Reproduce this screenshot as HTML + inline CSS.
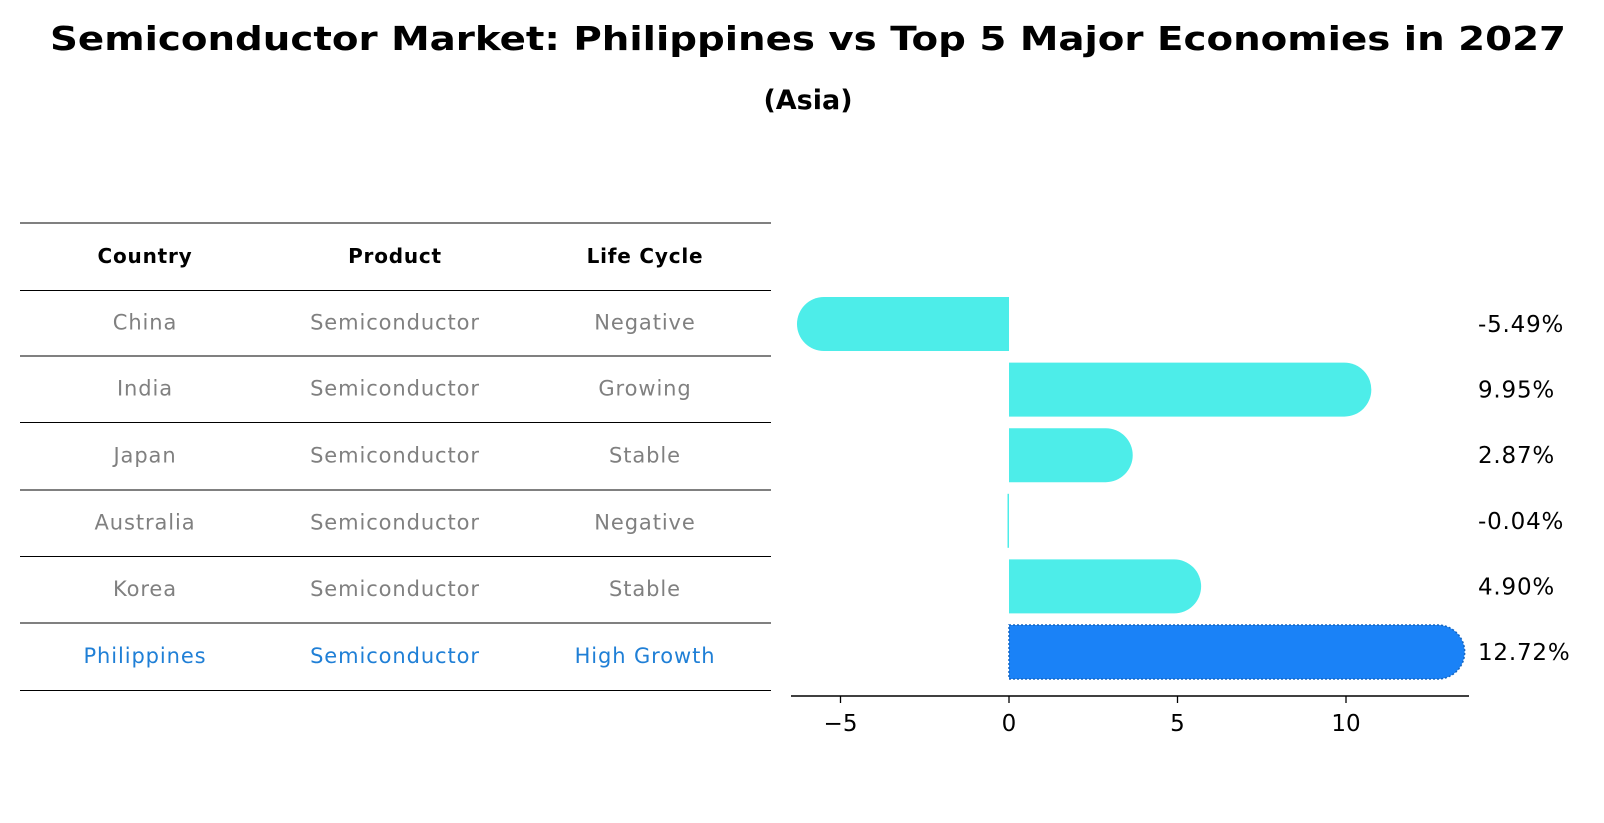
<!DOCTYPE html>
<html><head><meta charset="utf-8">
<style>
html,body{margin:0;padding:0;background:#fff;}
svg{display:block;font-family:"DejaVu Sans","Liberation Sans",sans-serif;}
</style></head>
<body>
<svg id="chart" width="1604" height="823" viewBox="0 0 1604 823">
  <text x="808" y="50" text-anchor="middle" font-size="33" font-weight="bold" fill="#000" textLength="1516" lengthAdjust="spacingAndGlyphs">Semiconductor Market: Philippines vs Top 5 Major Economies in 2027</text>
  <text x="808" y="109" text-anchor="middle" font-size="27" font-weight="bold" fill="#000">(Asia)</text>
  <g id="table"></g>
  <g id="bars"></g>
</svg>
<script>
const countries = ["China","India","Japan","Australia","Korea","Philippines"];
const products = ["Semiconductor","Semiconductor","Semiconductor","Semiconductor","Semiconductor","Semiconductor"];
const lifeCycles = ["Negative","Growing","Stable","Negative","Stable","High Growth"];
const growthValues = [-5.49, 9.95, 2.87, -0.04, 4.90, 12.72];
const valueLabels = ["-5.49%","9.95%","2.87%","-0.04%","4.90%","12.72%"];
const xTicks = [-5, 0, 5, 10];
const xTickLabels = ["\u22125","0","5","10"];

const NS = "http://www.w3.org/2000/svg";
function mk(tag, attrs, parent){
  const e = document.createElementNS(NS, tag);
  for (const k in attrs) e.setAttribute(k, attrs[k]);
  parent.appendChild(e);
  return e;
}
const table = document.getElementById('table');
const lineYs = [223, 290.5, 356, 422.5, 490, 556.5, 623, 690.5];
lineYs.forEach((y,i)=>{
  const l = mk('line',{x1:20,x2:771,y1:y,y2:y,stroke:'#000','stroke-width':1},table);
  
  
});
const colX = [145, 395, 645];
["Country","Product","Life Cycle"].forEach((h,i)=>{
  const t = mk('text',{x:colX[i],y:263,'text-anchor':'middle','font-size':20,'font-weight':'bold','letter-spacing':'0.8',fill:'#000'},table);
  t.textContent = h;
  
  
});
countries.forEach((c,r)=>{
  const yc = (lineYs[r+1]+lineYs[r+2])/2 + 6;
  const last = r === countries.length-1;
  const col = last ? '#1f7fd6' : '#808080';
  [c, products[r], lifeCycles[r]].forEach((v,i)=>{
    const t = mk('text',{x:colX[i],y:yc,'text-anchor':'middle','font-size':21,'letter-spacing':'0.9',fill:col},table);
    t.textContent = v;
    
    
  });
});
const g = document.getElementById('bars');
const x0 = 1009, pxPerUnit = 33.7;
const xs = v => x0 + v*pxPerUnit;
const rowY = i => 324 + i*65.6;
const barH = 54, r = 27;
growthValues.forEach((v,i)=>{
  const last = i === growthValues.length-1;
  const col = last ? '#1A82F7' : '#4DEDE9';
  const xa = xs(0), xb = xs(v), yc = rowY(i);
  let d;
  if (Math.abs(xb-xa) < 5) {
    const w = Math.max(Math.abs(xb-xa), 1.5);
    const left = v >= 0 ? xa : xa - w;
    d = `M${left},${yc-barH/2}h${w}v${barH}h${-w}z`;
  } else if (v >= 0) {
    d = `M${xa},${yc-barH/2}H${xb}A${r},${r} 0 0 1 ${xb},${yc+barH/2}H${xa}Z`;
  } else {
    d = `M${xa},${yc-barH/2}H${xb}A${r},${r} 0 0 0 ${xb},${yc+barH/2}H${xa}Z`;
  }
  const p = mk('path',{d:d,fill:col},g);
  if (last){ p.setAttribute('stroke','#1565c0'); p.setAttribute('stroke-width','1.5'); p.setAttribute('stroke-dasharray','2,2'); }
  
  
  const t = mk('text',{x:1478,y:yc+8,'font-size':23,'letter-spacing':'0.8',fill:'#000'},g);
  t.textContent = valueLabels[i];
  
  
});
const ax = mk('line',{x1:791,x2:1469,y1:696,y2:696,stroke:'#000','stroke-width':1.5},g);


xTicks.forEach((v,i)=>{
  const tk = mk('line',{x1:xs(v),x2:xs(v),y1:696,y2:703,stroke:'#000','stroke-width':1.3},g);
  
  
  const t = mk('text',{x:xs(v),y:731,'text-anchor':'middle','font-size':23,fill:'#000'},g);
  t.textContent = xTickLabels[i];
  
  
});
</script>
</body></html>
